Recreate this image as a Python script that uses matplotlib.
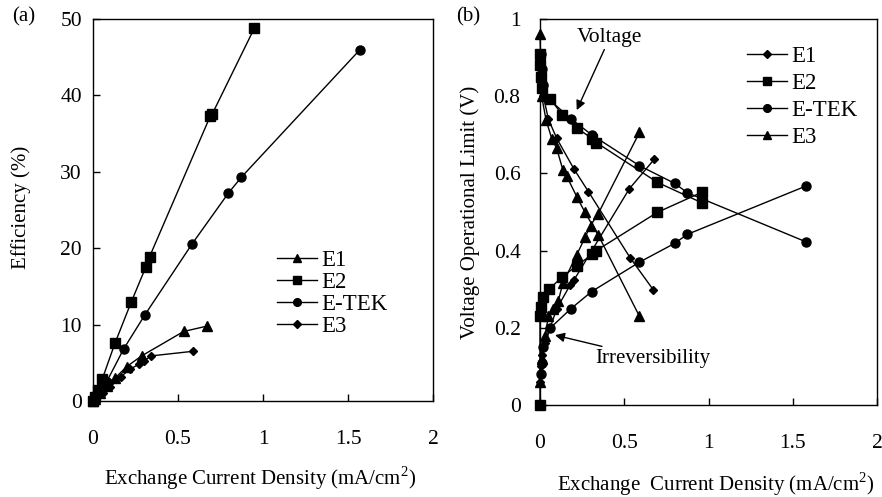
import matplotlib
matplotlib.use("Agg")
import matplotlib.pyplot as plt
from matplotlib.ticker import FormatStrFormatter

plt.rcParams['font.family'] = ['Liberation Serif', 'DejaVu Serif']
plt.rcParams['mathtext.fontset'] = 'custom'
plt.rcParams['mathtext.rm'] = 'Liberation Serif'

# ---- panel (a): efficiency vs exchange current density ----
a_e1_x = [0.0, 0.01, 0.04, 0.08, 0.13, 0.198, 0.286, 0.533, 0.67]
a_e1_y = [0.0, 0.3, 1.0, 2.0, 3.0, 4.5, 5.9, 9.1, 9.8]
a_e2_x = [0.0, 0.01, 0.03, 0.055, 0.129, 0.224, 0.31, 0.333, 0.69, 0.70, 0.949]
a_e2_y = [0.0, 0.5, 1.5, 2.9, 7.55, 12.9, 17.5, 18.9, 37.3, 37.5, 48.8]
a_etek_x = [0.0, 0.01, 0.04, 0.08, 0.18, 0.306, 0.584, 0.796, 0.873, 1.571]
a_etek_y = [0.0, 0.3, 1.2, 2.5, 6.8, 11.3, 20.6, 27.2, 29.3, 46.0]
a_e3_x = [0.0, 0.02, 0.06, 0.10, 0.165, 0.22, 0.27, 0.30, 0.341, 0.586]
a_e3_y = [0.0, 0.4, 1.0, 1.8, 3.2, 4.2, 4.8, 5.2, 5.9, 6.5]

# ---- panel (b): voltage limit (descending) and irreversibility (ascending) ----
b_e1_vx = [0.0, 0.005, 0.01, 0.02, 0.05, 0.099, 0.202, 0.287, 0.534, 0.673]
b_e1_vy = [0.90, 0.87, 0.84, 0.80, 0.74, 0.691, 0.611, 0.553, 0.382, 0.298]
b_e1_ix = [0.0, 0.005, 0.01, 0.03, 0.06, 0.10, 0.178, 0.202, 0.53, 0.679]
b_e1_iy = [0.06, 0.10, 0.13, 0.16, 0.20, 0.25, 0.31, 0.324, 0.56, 0.637]
b_e2_vx = [0.0, 0.002, 0.005, 0.01, 0.06, 0.133, 0.218, 0.31, 0.334, 0.696, 0.96]
b_e2_vy = [0.91, 0.88, 0.85, 0.82, 0.794, 0.751, 0.718, 0.69, 0.68, 0.577, 0.524]
b_e2_ix = [0.0, 0.0, 0.005, 0.02, 0.053, 0.133, 0.218, 0.31, 0.334, 0.696, 0.96]
b_e2_iy = [0.0, 0.23, 0.255, 0.28, 0.30, 0.332, 0.361, 0.39, 0.40, 0.499, 0.551]
b_etek_vx = [0.005, 0.01, 0.02, 0.053, 0.182, 0.307, 0.59, 0.80, 0.874, 1.577]
b_etek_vy = [0.91, 0.87, 0.83, 0.792, 0.742, 0.70, 0.62, 0.574, 0.55, 0.423]
b_etek_ix = [0.005, 0.01, 0.02, 0.06, 0.182, 0.307, 0.59, 0.80, 0.874, 1.577]
b_etek_iy = [0.08, 0.11, 0.15, 0.199, 0.249, 0.294, 0.37, 0.419, 0.442, 0.567]
b_e3_vx = [0.0, 0.01, 0.036, 0.07, 0.099, 0.135, 0.158, 0.218, 0.267, 0.346, 0.59]
b_e3_vy = [0.96, 0.80, 0.738, 0.69, 0.665, 0.61, 0.593, 0.54, 0.499, 0.44, 0.23]
b_e3_ix = [0.0, 0.01, 0.03, 0.05, 0.08, 0.109, 0.135, 0.218, 0.267, 0.30, 0.346, 0.59]
b_e3_iy = [0.06, 0.12, 0.18, 0.23, 0.25, 0.27, 0.315, 0.389, 0.434, 0.465, 0.496, 0.706]

xticks = [0, 0.5, 1, 1.5, 2]

fig = plt.figure(figsize=(8.82, 4.97), dpi=100)
axa = fig.add_axes([93/882, 96/497, 340/882, 382/497])
axb = fig.add_axes([540/882, 92/497, 337/882, 386/497])

lk = dict(color='black', lw=1.0, clip_on=False)
axa.plot(a_e1_x, a_e1_y, marker='^', ms=6.5, label='E1', **lk)
axa.plot(a_e2_x, a_e2_y, marker='s', ms=6.5, label='E2', **lk)
axa.plot(a_etek_x, a_etek_y, marker='o', ms=6.5, label='E-TEK', **lk)
axa.plot(a_e3_x, a_e3_y, marker='D', ms=4.5, label='E3', **lk)

axb.plot(b_e1_vx, b_e1_vy, marker='D', ms=4.5, label='E1', **lk)
axb.plot(b_e1_ix, b_e1_iy, marker='D', ms=4.5, **lk)
axb.plot(b_e2_vx, b_e2_vy, marker='s', ms=6.5, label='E2', **lk)
axb.plot(b_e2_ix, b_e2_iy, marker='s', ms=6.5, **lk)
axb.plot(b_etek_vx, b_etek_vy, marker='o', ms=6.5, label='E-TEK', **lk)
axb.plot(b_etek_ix, b_etek_iy, marker='o', ms=6.5, **lk)
axb.plot(b_e3_vx, b_e3_vy, marker='^', ms=6.5, label='E3', **lk)
axb.plot(b_e3_ix, b_e3_iy, marker='^', ms=6.5, **lk)

axa.set_xlim(0, 2)
axa.set_ylim(0, 50)
axa.set_yticks([0, 10, 20, 30, 40, 50])
axb.set_xlim(0, 2)
axb.set_ylim(0, 1)
axb.set_yticks([0, 0.2, 0.4, 0.6, 0.8, 1])

for ax in (axa, axb):
    ax.set_xticks(xticks)
    ax.xaxis.set_major_formatter(FormatStrFormatter('%g'))
    ax.yaxis.set_major_formatter(FormatStrFormatter('%g'))
    ax.tick_params(direction='in', length=5, width=1, labelsize=15.5)
    ax.tick_params(axis='x', pad=21)
    for s in ax.spines.values():
        s.set_linewidth(1.0)
axa.tick_params(axis='y', pad=8)
axb.tick_params(axis='y', pad=14)

axa.legend(loc='upper left', bbox_to_anchor=(0.515, 0.42), frameon=False,
           fontsize=16.5, handlelength=1.75, handletextpad=0.15, labelspacing=0.05,
           borderaxespad=0, markerscale=0.85)
axb.legend(loc='upper left', bbox_to_anchor=(0.588, 0.953), frameon=False,
           fontsize=16.5, handlelength=1.75, handletextpad=0.15, labelspacing=0.25,
           borderaxespad=0, markerscale=0.85)

axb.annotate('Voltage', xy=(0.218, 0.764), xytext=(0.415, 0.928),
             fontsize=15.5, ha='center', va='bottom',
             arrowprops=dict(arrowstyle='-|>', color='black', lw=1.0,
                             mutation_scale=14, shrinkA=0, shrinkB=0))
axb.annotate('Irreversibility', xy=(0.089, 0.181), xytext=(0.33, 0.12),
             fontsize=15, ha='left', va='center',
             arrowprops=dict(arrowstyle='-|>', color='black', lw=1.0,
                             mutation_scale=14, shrinkA=0, shrinkB=0))

fig.text(21/882, 1 - 207/497, 'Efficiency (%)', rotation=90, fontsize=15,
         ha='center', va='center')
fig.text(470/882, 1 - 212/497, 'Voltage Operational Limit (V)', rotation=90,
         fontsize=15, ha='center', va='center')
fig.text(260/882, 1 - 478/497, 'Exchange Current Density (mA/cm$^2$)',
         fontsize=15, ha='center', va='center')
fig.text(716/882, 1 - 484/497, 'Exchange  Current Density (mA/cm$^2$)',
         fontsize=15, ha='center', va='center')
fig.text(12/882, 1 - 17/497, '(a)', fontsize=15, ha='left', va='center')
fig.text(456/882, 1 - 17/497, '(b)', fontsize=15, ha='left', va='center')

fig.savefig('out.png', dpi=100)
